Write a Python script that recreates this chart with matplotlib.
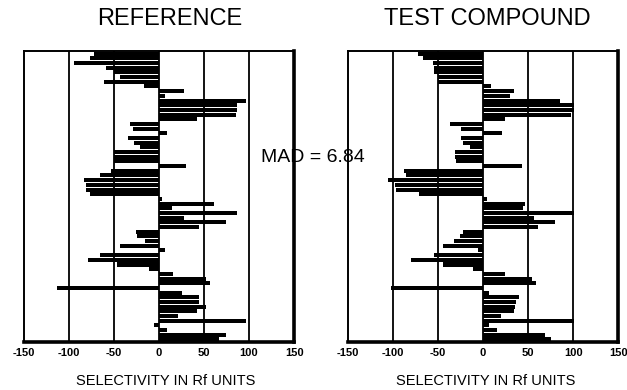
import matplotlib.pyplot as plt
import numpy as np

plt.rcParams["font.family"] = ["Liberation Sans", "DejaVu Sans"]

# selectivity per plate position, top to bottom
reference_vals = [
    -72, -76, -94, -59, -50, -43, -61, -17, 28, 7,
    97, 87, 87, 86, 42, -32, -29, 9, -34, -28,
    -21, -50, -50, -50, 30, -53, -65, -83, -81, -81,
    -77, 3, 61, 15, 87, 28, 74, 45, -25, -24,
    -15, -43, 7, -65, -79, -47, -11, 16, 52, 57,
    -113, 26, 44, 44, 52, 42, 21, 97, -6, 9,
    74, 67,
]
test_vals = [
    -72, -67, -56, -54, -54, -50, -50, 9, 34, 30,
    85, 101, 101, 98, 24, -37, -24, 21, -25, -22,
    -15, -31, -31, -30, 43, -88, -86, -106, -98, -97,
    -71, 4, 47, 44, 101, 57, 80, 61, -22, -26,
    -32, -44, -6, -54, -80, -44, -11, 24, 54, 59,
    -102, 7, 40, 37, 35, 34, 20, 101, 7, 15,
    69, 75,
]
tick_vals = [-150, -100, -50, 0, 50, 100, 150]
grid_vals = [-100, -50, 0, 50, 100]
mad_value = 6.84


def draw_panel(ax, vals):
    n = len(vals)
    ypos = np.arange(n)
    ax.set_facecolor("none")
    for g in grid_vals:
        ax.axvline(g, color="black", linewidth=1.3, zorder=1)
    ax.barh(ypos, vals, height=0.86, color="black", linewidth=0, zorder=2)
    ax.set_xlim(-150, 150)
    ax.set_ylim(n - 0.45, -0.55)
    ax.set_yticks([])
    ax.set_xticks(tick_vals)
    ax.set_xticklabels([str(t) for t in tick_vals], fontsize=8, fontweight="bold")
    ax.tick_params(axis="x", length=0, pad=4)
    for side, lw in [("left", 1.4), ("top", 1.4), ("right", 2.6), ("bottom", 2.6)]:
        ax.spines[side].set_linewidth(lw)
        ax.spines[side].set_color("black")


fig = plt.figure(figsize=(6.27, 3.9), dpi=100)
ax_ref = fig.add_axes([0.038, 0.123, 0.431, 0.746])
ax_test = fig.add_axes([0.555, 0.123, 0.431, 0.746])

draw_panel(ax_ref, reference_vals)
draw_panel(ax_test, test_vals)

fig.text(0.271, 0.952, "REFERENCE", fontsize=17, ha="center", va="center")
fig.text(0.777, 0.952, "TEST COMPOUND", fontsize=17, ha="center", va="center")
fig.text(0.265, 0.024, "SELECTIVITY IN Rf UNITS", fontsize=10.5, ha="center", va="center")
fig.text(0.774, 0.024, "SELECTIVITY IN Rf UNITS", fontsize=10.5, ha="center", va="center")
fig.text(0.416, 0.595, f"MAD = {mad_value}", fontsize=14, ha="left", va="center", zorder=-1)

plt.savefig("out.png", dpi=100, facecolor="white")
plt.close(fig)
